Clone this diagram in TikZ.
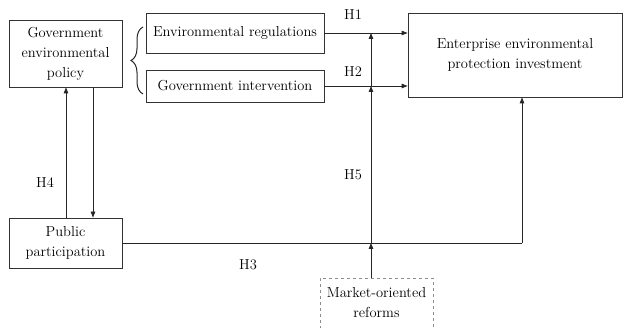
\documentclass[tikz,border=0pt]{standalone}
\usetikzlibrary{arrows.meta,decorations.pathreplacing}
\begin{document}
\begin{tikzpicture}[x=1pt,y=-1pt,
  every node/.style={font=\fontsize{14.5}{20}\selectfont, text=black},
  box/.style={draw=black!80, line width=0.8pt, align=center, inner sep=0pt},
  dbox/.style={draw=black!45, dashed, line width=0.8pt, align=center, inner sep=0pt},
  conn/.style={draw=black!85, line width=0.8pt},
  arr/.style={conn, -{Triangle[length=6pt,width=4.5pt]}},
  lab/.style={inner sep=0pt}]
\useasboundingbox (0,0) rectangle (624,328);
\node[box, minimum width=113pt, minimum height=67pt] (gep) at (65.5,53.5) {Government\\environmental\\policy};
\node[box, minimum width=178pt, minimum height=40pt] (er) at (235,33) {Environmental regulations};
\node[box, minimum width=178pt, minimum height=32pt] (gi) at (235,86) {Government intervention};
\node[box, minimum width=214pt, minimum height=84pt] (epi) at (515,55) {Enterprise environmental\\protection investment};
\node[box, minimum width=113pt, minimum height=50pt] (pp) at (65.5,243) {Public\\participation};
\node[dbox, minimum width=113pt, minimum height=50pt] (mor) at (376.5,303) {Market-oriented\\reforms};
% brace
\draw[conn, line width=1pt, decorate, decoration={brace, amplitude=12pt}] (143,94) -- (143,27);
% H1, H2
\coordinate (h1end) at (epi.west |- er.east);
\coordinate (h2end) at (epi.west |- gi.east);
\draw[arr] (er.east) -- (h1end);
\draw[arr] (gi.east) -- (h2end);
% moderator line
\coordinate (mtop) at (371,278);
\coordinate (mj) at (371,243);
\coordinate (m2) at (371,86);
\coordinate (m1) at (371,33);
\draw[arr] (mtop) -- (mj);
\draw[arr] (mj) -- (m2);
\draw[arr] (m2) -- (m1);
% H3
\coordinate (corner) at (522,243);
\draw[conn] (pp.east) -- (corner);
\draw[arr] (corner) -- (corner |- epi.south);
% H4
\draw[arr] (pp.north -| 66,0) -- (gep.south -| 66,0);
\draw[arr] (gep.south -| 93,0) -- (pp.north -| 93,0);
% labels
\node[lab] (lh1) at (353,15) {H1};
\node[lab] (lh2) at (353,72) {H2};
\node[lab] (lh3) at (248,265) {H3};
\node[lab] (lh4) at (45,183) {H4};
\node[lab] (lh5) at (353,175) {H5};
\end{tikzpicture}
\end{document}
